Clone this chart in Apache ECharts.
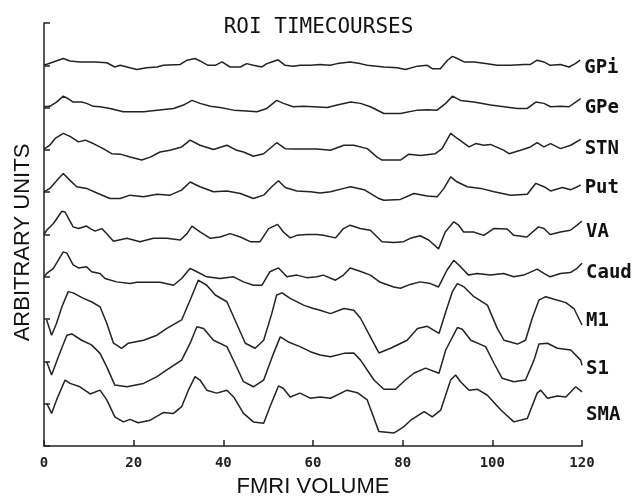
<!DOCTYPE html>
<html>
<head>
<meta charset="utf-8">
<script src="https://cdn.jsdelivr.net/npm/echarts@6/dist/echarts.min.js"></script>
<style>html,body{margin:0;padding:0;background:#fff;}#c{width:637px;height:496px;}</style>
</head>
<body>
<div id="c"></div>
<script>
// Region names (top to bottom)
var names = ['GPi','GPe','STN','Put','VA','Caud','M1','S1','SMA'];
var xTicks = [0,20,40,60,80,100,120];

// Timecourses: [fMRI volume, arbitrary units] (stacked traces)
var gpi = [[0,90.0],[4.3,91.6],[5.8,91.0],[8,90.8],[11.4,90.8],[14,90.6],[15.8,89.6],[17,90.0],[18.5,89.6],[20.7,89.0],[22.9,89.4],[25.2,89.6],[26.6,90.0],[30.4,90.2],[31.9,91.2],[33.7,91.6],[35.2,90.8],[36.6,90.0],[38.2,90.0],[39.7,90.8],[41.5,89.6],[43.8,89.6],[45.2,90.4],[46.7,90.0],[48.6,89.6],[49.7,90.4],[50.8,90.8],[52.2,91.3],[53.8,90.0],[55.6,89.8],[57.1,90.0],[59.4,90.0],[61.6,90.2],[63.8,90.0],[65.4,90.4],[68.3,90.8],[70.5,90.4],[72.1,90.0],[75.8,89.6],[78.8,89.4],[80.6,89.0],[83.3,89.8],[85.5,90.0],[86.6,89.2],[88.4,89.2],[90,91.2],[91.1,92.1],[92.2,91.6],[93.7,90.8],[95.9,90.8],[98.1,90.5],[101.1,90.0],[104,90.0],[107.1,90.2],[108.5,90.2],[110,91.2],[111.5,90.8],[112.9,90.0],[115.2,90.2],[117.1,89.6],[118.5,90.4],[119.6,91.2]];
var gpe = [[0,80.2],[1.3,80.3],[2.8,81.3],[4.3,82.7],[5.4,82.1],[6.5,81.3],[8.4,81.3],[9.5,81.0],[11,80.3],[12.5,80.2],[14.7,79.8],[17.7,79.0],[22.2,79.0],[25.2,79.4],[28.9,79.8],[31.1,80.6],[33,81.7],[34.8,81.0],[37.1,80.3],[39.3,80.0],[42.3,79.4],[45.2,79.2],[47.5,79.0],[49.7,79.8],[51.9,81.7],[53.4,81.0],[55.6,80.2],[57.9,80.3],[60.1,80.2],[63.2,80.0],[65.4,80.6],[68.4,81.3],[70.6,81.0],[72.8,80.2],[75.8,78.6],[79.5,78.6],[83.3,79.4],[85.5,79.5],[87.7,79.4],[89.6,81.0],[91.1,82.7],[92.9,81.7],[95.9,81.3],[99.6,80.6],[102.6,80.2],[105.6,79.8],[107.8,79.8],[109.7,81.3],[111.5,81.0],[113,80.2],[115.2,80.3],[117.1,80.2],[118.6,81.3],[119.7,82.1]];
var stn = [[0,70.2],[1.3,71.1],[2.5,72.7],[4.3,73.9],[5.8,73.2],[7.7,71.9],[9.2,72.3],[11,71.5],[13.2,70.3],[15.1,69.1],[17,69.0],[19.2,68.3],[21.8,67.6],[23.7,68.3],[25.9,69.5],[28.1,69.9],[30.7,70.7],[32.6,72.3],[34.8,71.1],[37.8,70.1],[40.8,71.1],[43,69.9],[44.5,69.5],[46.7,68.5],[49,69.1],[51.9,71.7],[53.8,70.3],[55.6,70.2],[58.6,70.2],[60.9,70.2],[63.9,69.9],[66.9,71.1],[69.1,71.1],[72.1,70.3],[74.3,68.3],[75.4,67.6],[79.5,67.6],[81.4,69.0],[84,68.7],[87.3,69.1],[88.8,70.3],[90.7,73.9],[92.2,72.7],[94.8,70.7],[96.3,71.5],[98.1,71.1],[99.6,71.3],[102.6,69.9],[103.7,69.1],[106.3,69.9],[108.5,70.7],[110,71.7],[111.5,70.7],[113,71.5],[115.2,70.3],[117.5,71.1],[119.7,72.5]];
var put = [[0,60.1],[1.3,60.9],[3.2,63.2],[4.3,64.4],[5.8,62.8],[7.3,61.3],[9.5,60.9],[11.8,59.8],[14.7,58.5],[17,58.5],[19.2,59.3],[22.2,58.9],[25.2,59.5],[28.1,59.3],[30.7,60.5],[32.6,62.4],[34.8,61.3],[37.8,60.1],[40.8,60.3],[43.8,59.7],[46.7,58.5],[49,59.3],[50.8,61.3],[52.3,62.7],[53.8,61.1],[56.4,60.3],[59.4,60.1],[61.6,59.8],[63.9,60.1],[66.9,60.9],[68.4,61.3],[71.4,60.6],[74.7,58.5],[75.8,58.1],[79.5,58.3],[82.5,59.7],[85.5,59.1],[87.7,58.9],[89.2,60.9],[90.7,63.6],[92.2,62.4],[94.4,61.3],[97.4,60.9],[100.4,60.1],[104.1,59.3],[107.8,59.5],[109.7,62.1],[111.5,61.3],[113,60.3],[115.6,61.1],[117.5,60.6],[119,61.3],[119.7,61.7]];
var va = [[0,50.0],[0.6,51.0],[2.1,52.6],[4,55.5],[4.7,55.3],[6.5,51.8],[7.7,51.4],[9.5,52.0],[10.3,51.4],[11.4,50.8],[12.9,51.4],[14,50.2],[15.5,48.4],[18.5,49.1],[21.4,48.3],[24.4,49.1],[27.4,49.1],[30.4,48.7],[31.9,50.2],[33,52.0],[34.8,50.6],[37.1,49.1],[39.3,49.4],[41.5,50.2],[43.8,49.4],[46,48.3],[48.2,48.3],[50.1,51.4],[52.1,52.4],[53.4,50.6],[54.9,49.2],[56.4,49.8],[58.6,50.0],[60.9,50.0],[62.3,49.8],[65,49.2],[66.8,51.4],[68.3,52.2],[70.5,51.4],[72.8,51.0],[75.4,48.3],[78,48.1],[80.2,48.3],[81.7,49.1],[83.9,49.7],[85.8,48.7],[88,46.6],[89.5,50.6],[91.4,53.0],[92.5,52.2],[93.6,50.6],[95.8,50.6],[98.1,49.8],[100.3,51.4],[103.3,51.3],[104.8,49.8],[107.7,49.4],[110.3,51.8],[111.5,51.4],[112.9,50.0],[115.2,50.6],[117.4,51.0],[118.9,52.2],[120,53.2]];
var caud = [[0,40.0],[0.6,40.8],[2.1,42.0],[4.3,45.9],[5.1,45.6],[6.5,42.8],[7.7,42.1],[9.5,42.4],[10.6,41.2],[12.5,40.8],[13.6,39.6],[16.2,38.8],[19.2,38.4],[20.7,38.7],[23.7,38.7],[25.9,38.7],[28.9,38.0],[30.7,39.6],[32.6,42.0],[34.1,41.2],[36.3,40.0],[39.3,39.6],[42.3,40.0],[44.5,38.8],[46.7,38.0],[48.6,38.0],[50.4,41.2],[52.3,42.1],[54.2,40.0],[56.4,40.4],[58.6,39.8],[60.9,40.0],[62.3,40.4],[65,39.2],[66.8,40.4],[68.3,42.1],[70.5,41.3],[72.8,40.4],[75,38.7],[78,37.6],[79.5,37.3],[81.7,38.2],[83.9,38.8],[86.2,38.4],[88,37.6],[89.9,41.6],[91.4,43.9],[92.9,42.4],[94.7,40.4],[96.6,40.8],[99.6,40.4],[102.5,40.8],[104.8,40.0],[107,40.4],[110,41.8],[111.5,40.8],[112.9,40.0],[115.2,40.8],[117.4,41.0],[118.9,42.0],[120,43.2]];
var m1 = [[0.6,29.8],[1.7,26.2],[2.8,29.0],[4,32.9],[5.4,36.5],[6.5,36.2],[8.8,34.9],[10.6,34.1],[12.5,32.9],[14,29.0],[15.5,24.3],[17.3,23.1],[18.8,24.3],[22.2,25.0],[25.2,26.2],[27.4,27.8],[30.7,29.8],[32.6,34.5],[34.4,39.2],[36.3,38.0],[38.2,35.7],[40.8,34.1],[42.6,29.8],[44.9,24.3],[47.1,23.1],[49,25.0],[50.8,31.3],[51.9,35.7],[53.1,36.2],[54.9,34.9],[57.9,33.3],[60.1,32.5],[61.6,32.1],[63.9,31.3],[66.9,32.5],[69.1,32.1],[70.6,30.2],[72.8,25.8],[74.7,22.0],[77.3,23.1],[81,25.0],[83.3,27.8],[85.5,28.3],[88.1,26.6],[89.6,31.7],[91.1,36.5],[92.2,38.4],[93.7,37.6],[95.9,35.3],[98.9,33.3],[101.1,27.8],[102.6,25.0],[105.6,24.1],[107.4,25.0],[108.9,30.2],[110.4,34.5],[111.9,35.3],[113.8,34.7],[116.4,33.9],[118.2,32.5],[120,28.6]];
var s1 = [[0.6,19.9],[1.7,16.8],[3.2,21.1],[5.1,26.2],[6.2,26.5],[8.4,25.0],[10.6,23.9],[12.5,21.9],[14,18.7],[15.8,14.4],[18.5,14.0],[22.2,14.8],[25.2,16.4],[27.4,18.0],[30.7,20.3],[32.6,24.3],[34.1,28.2],[35.6,27.8],[37.8,25.0],[40.8,23.5],[42.6,19.5],[44.5,15.2],[46.7,14.0],[49,15.6],[51.2,21.9],[52.7,25.8],[54.5,24.6],[57.1,23.5],[59.4,22.3],[61.6,21.5],[63.9,21.1],[66.9,21.9],[69.1,22.0],[70.6,20.3],[73.6,15.6],[75.8,13.4],[78.4,13.4],[80.6,15.6],[82.5,17.2],[85.1,18.4],[88.1,17.2],[89.6,22.7],[92.2,28.0],[93.3,27.6],[95.2,25.0],[98.5,23.5],[100.4,19.5],[102.2,16.0],[104.8,15.2],[107.4,15.6],[109.3,20.3],[110.4,24.1],[112.3,24.3],[114.5,23.1],[117.5,22.7],[119.7,20.3],[120,19.1]];
var sma = [[0.6,10.1],[1.7,7.7],[2.8,10.9],[4.7,15.6],[5.8,14.8],[8,14.0],[10.3,12.3],[12.5,13.2],[14,10.9],[15.8,6.9],[17.7,5.7],[19.2,6.3],[21,5.5],[23.7,6.1],[26.6,7.9],[28.9,7.7],[30.7,9.3],[32.2,13.2],[33.7,16.4],[34.8,15.6],[36.3,13.2],[38.5,12.5],[40.8,13.2],[42.3,11.6],[44.5,7.7],[46.7,5.7],[49,5.4],[50.4,9.3],[52.3,14.2],[53.4,13.6],[54.9,11.6],[57.1,12.5],[59.4,11.3],[61.6,11.6],[63.9,11.3],[67.6,13.2],[69.9,12.6],[72.1,10.9],[74.7,3.4],[78.1,3.1],[80.3,4.6],[81.8,6.1],[84.8,8.1],[86.6,6.9],[88.5,8.5],[90.7,15.6],[91.8,16.8],[92.9,15.2],[94.8,13.2],[96.7,13.4],[98.9,12.0],[101.9,8.5],[104.8,5.7],[107.8,6.5],[110,12.5],[110.8,13.2],[112.3,11.3],[114.5,11.8],[116.4,11.6],[118.6,14.0],[120,12.8]];

var traces = [gpi,gpe,stn,put,va,caud,m1,s1,sma];
var labelDy = [7.5,9,10,3,11,10,-3.5,4,23];

var ink = '#222';
var mono = 'DejaVu Sans Mono';
var series = names.map(function(n,i){
  return {
    name: n, type: 'line', data: traces[i], showSymbol: false, symbol: 'none',
    lineStyle: {color: ink, width: 1.5}, silent: true, animation: false,
    endLabel: {show: true, formatter: '{a}', distance: 4, offset: [0, labelDy[i]],
      color: '#111', fontFamily: mono, fontSize: 19, fontWeight: 'bold'}
  };
});

var chart = echarts.init(document.getElementById('c'), null, {renderer: 'canvas'});
chart.setOption({
  animation: false,
  backgroundColor: '#fff',
  title: {text: 'ROI TIMECOURSES', left: 'center', top: 12,
    textStyle: {fontFamily: mono, fontSize: 21, fontWeight: 'normal', color: '#111'}},
  grid: {left: 44, right: 55, top: 23, bottom: 50, outerBoundsMode: 'none', containLabel: false},
  xAxis: {type: 'value', min: 0, max: 120, interval: 20,
    name: 'FMRI VOLUME', nameLocation: 'middle', nameGap: 30,
    nameTextStyle: {fontFamily: 'Liberation Sans', fontSize: 22, color: '#111'},
    axisLine: {lineStyle: {color: ink, width: 1.5}},
    axisTick: {inside: true, length: 6, lineStyle: {color: ink, width: 1.5}},
    axisLabel: {margin: 10, fontFamily: mono, fontSize: 14, fontWeight: 'bold', color: '#222',
      formatter: function(v){ return xTicks.indexOf(v) >= 0 ? String(v) : ''; }},
    splitLine: {show: false}},
  yAxis: {type: 'value', min: 0, max: 100, interval: 10,
    name: 'ARBITRARY UNITS', nameLocation: 'middle', nameGap: 10,
    nameTextStyle: {fontFamily: 'Liberation Sans', fontSize: 22, color: '#111', padding: [0, 16, 0, 0]},
    axisLine: {show: true, lineStyle: {color: ink, width: 1.5}},
    axisTick: {show: true, inside: true, length: 6, lineStyle: {color: ink, width: 1.5}},
    axisLabel: {show: false},
    splitLine: {show: false}},
  series: series
});
</script>
</body>
</html>
